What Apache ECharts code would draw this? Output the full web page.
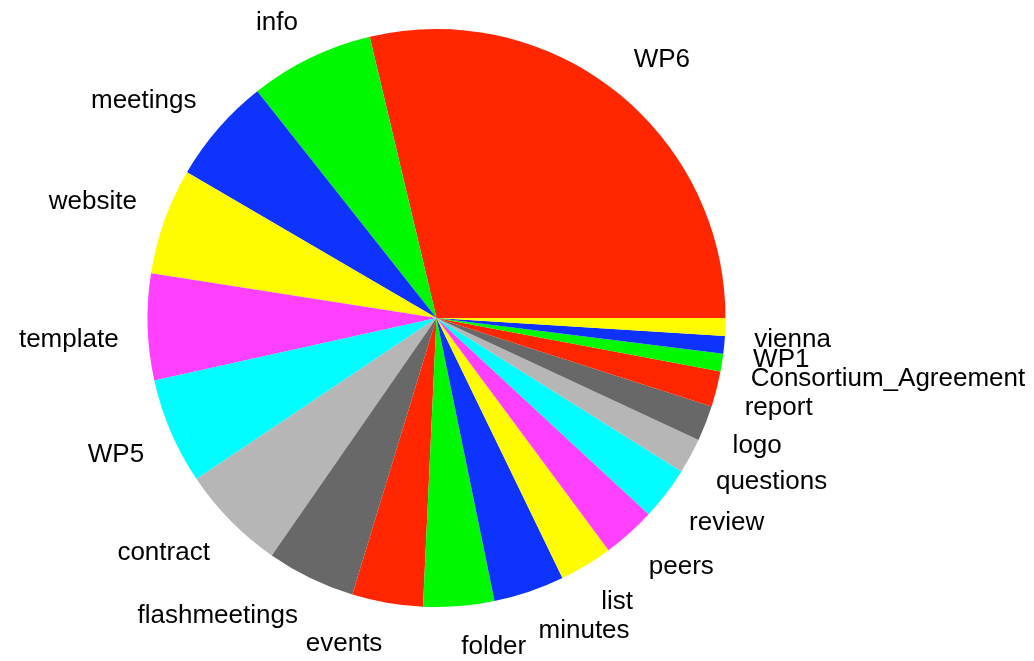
<!DOCTYPE html>
<html>
<head>
<meta charset="utf-8">
<script src="https://cdn.jsdelivr.net/npm/echarts@6/dist/echarts.min.js"></script>
<style>
html,body{margin:0;padding:0;background:#fff;}
#chart{width:1034px;height:661px;}
</style>
</head>
<body>
<div id="chart"></div>
<script>
const categories = ['WP6','info','meetings','website','template','WP5','contract','flashmeetings','events','folder','minutes','list','peers','review','questions','logo','report','Consortium_Agreement','WP1','vienna'];
const values = [29,7,6,6,6,6,6,5,4,4,4,3,3,3,2,2,2,1,1,1];
const palette = ['#FF2600','#00F900','#0F33FF','#FFFB00','#FF40FF','#00FDFF','#B6B6B6','#686868'];

const total = values.reduce((a,b)=>a+b,0);
let cum = 0;
const upperHalf = [];
const data = categories.map((name,i)=>{
  const mid = (cum + values[i]/2) / total * 360;
  cum += values[i];
  upperHalf.push(mid < 180);
  return {
    name: name,
    value: values[i],
    itemStyle: { color: palette[i % palette.length] }
  };
});

const chart = echarts.init(document.getElementById('chart'), null, {renderer:'canvas'});
chart.setOption({
  animation: false,
  backgroundColor: '#ffffff',
  series: [{
    type: 'pie',
    center: [436.5, 318],
    radius: 289,
    startAngle: 0,
    clockwise: false,
    avoidLabelOverlap: false,
    emphasis: { disabled: true },
    itemStyle: { borderWidth: 0 },
    label: {
      show: true,
      position: 'outside',
      color: '#000',
      fontFamily: 'Liberation Sans, Arial, sans-serif',
      fontSize: 26,
      distanceToLabelLine: 0,
      formatter: '{b}'
    },
    labelLine: { show: false, length: 29, length2: 0 },
    labelLayout: function (params) {
      return { hideOverlap: false, dy: upperHalf[params.dataIndex] ? -9 : 12 };
    },
    data: data
  }]
});
</script>
</body>
</html>
